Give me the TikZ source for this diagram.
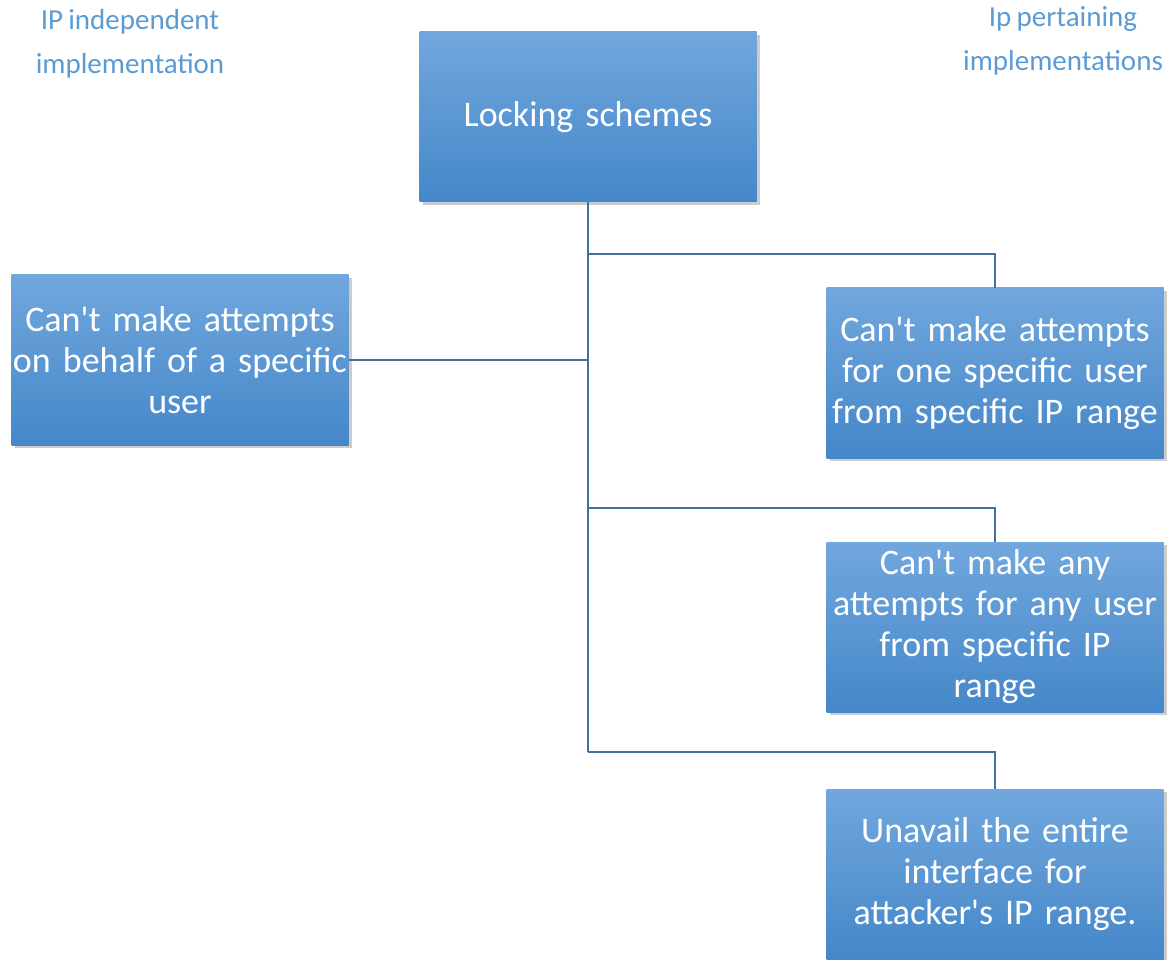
\documentclass[tikz,border=0pt]{standalone}
\usepackage{fontspec}
\setmainfont{Carlito}[WordSpace=0.8]
\usepackage{xcolor}
\usetikzlibrary{shadows}
\definecolor{boxtop}{HTML}{71A7DD}
\definecolor{boxbot}{HTML}{4587C9}
\definecolor{linkcol}{HTML}{41719C}
\definecolor{labcol}{HTML}{5B9BD5}
\tikzstyle{scheme} = [rectangle, top color=boxtop, bottom color=boxbot, draw=none,
  minimum width=337pt, minimum height=170pt, text width=337pt, inner sep=0pt,
  align=center, text=white, font=\fontsize{36}{41}\selectfont,
  drop shadow={opacity=0.4, shadow xshift=3pt, shadow yshift=-3pt}]
\tikzstyle{link} = [draw=linkcol, line width=2pt]
\tikzstyle{side} = [align=center, text=labcol, font=\fontsize{29}{44}\selectfont]

\begin{document}
\begin{tikzpicture}[x=1pt,y=-1pt]
\useasboundingbox (0,0) rectangle (1171,960);
%
\node[side] (indep) at (130,44) {IP independent\\implementation};
\node[side] (pert) at (1063,41) {Ip pertaining\\implementations};
%
\node[scheme] (root) at (588,117) {Locking schemes};
\node[scheme] (user) at (180,360) {Can\textquotesingle t make attempts\\on behalf of a specific\\user};
\node[scheme] (oneuser) at (995,373) {Can\textquotesingle t make attempts\\for one specific user\\from specific IP range};
\node[scheme] (anyuser) at (995,627) {Can\textquotesingle t make any\\attempts for any user\\from specific IP\\range};
\node[scheme] (whole) at (995,874) {Unavail the entire\\interface for\\attacker\textquotesingle s IP range.};
%
\coordinate (j1) at (588,254);
\coordinate (j2) at (588,360);
\coordinate (j3) at (588,508);
\coordinate (j4) at (588,752);
%
\path[link] (root.south) -- (j4);
\path[link] (j1) -| (oneuser.north);
\path[link] (j2) -- (user.east);
\path[link] (j3) -| (anyuser.north);
\path[link] (j4) -| (whole.north);
\end{tikzpicture}
\end{document}
